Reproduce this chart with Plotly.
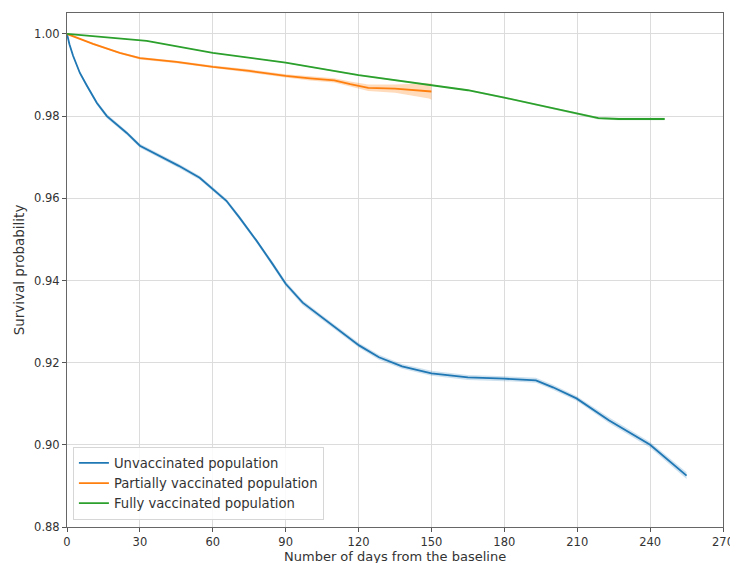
import plotly.graph_objects as go

# ---------------- data ----------------
unvax_days = [0, 1, 2.5, 5.3, 8.2, 12.3, 16.4, 24.6, 30, 38, 46, 54.6, 60, 65.6, 71, 78,
              84.5, 90, 97, 103.8, 110.8, 120.2, 128.4, 137.9, 150, 165, 180, 193, 200,
              209.7, 223, 240, 255]
unvax_surv = [1.0, 0.9975, 0.9947, 0.9905, 0.9874, 0.9832, 0.9800, 0.9759, 0.9728, 0.9704,
              0.9679, 0.9650, 0.9623, 0.9594, 0.9553, 0.9497, 0.9441, 0.9392, 0.9346,
              0.9315, 0.9283, 0.9242, 0.9213, 0.9191, 0.9174, 0.9164, 0.9161, 0.9157,
              0.9140, 0.9113, 0.9060, 0.9000, 0.8925]
unvax_ci = [0.0, 0.0002, 0.0003, 0.0004, 0.0004, 0.0005, 0.0005, 0.0005, 0.0005, 0.0005,
            0.0005, 0.0005, 0.0005, 0.0005, 0.0005, 0.0005, 0.0006, 0.0006, 0.0006,
            0.0006, 0.0006, 0.0006, 0.0006, 0.0006, 0.0006, 0.0006, 0.0006, 0.0006,
            0.0006, 0.0006, 0.0007, 0.0007, 0.0008]

partial_days = [0, 10.7, 21.7, 30, 45, 60, 75, 90, 100, 110, 116.6, 124, 135, 149, 150]
partial_surv = [1.0, 0.9976, 0.9954, 0.9941, 0.9932, 0.9920, 0.9910, 0.9898, 0.9892,
                0.9887, 0.9878, 0.9869, 0.9867, 0.9861, 0.9860]
partial_ci = [0.0, 0.0002, 0.0002, 0.0003, 0.0003, 0.0003, 0.0004, 0.0004, 0.0005,
              0.0005, 0.0006, 0.0008, 0.0010, 0.0018, 0.0020]

full_days = [0, 32.8, 60, 90, 120, 145, 150, 165, 180, 195, 210, 218.7, 227, 246]
full_surv = [1.0, 0.9983, 0.9954, 0.9930, 0.9900, 0.9879, 0.9874, 0.9863, 0.9845, 0.9825,
             0.9806, 0.9795, 0.9793, 0.9793]
full_ci = [0.0, 0.0001, 0.0001, 0.0001, 0.0002, 0.0002, 0.0002, 0.0002, 0.0002, 0.0002,
           0.0003, 0.0003, 0.0003, 0.0003]

series_names = ["Unvaccinated population", "Partially vaccinated population",
                "Fully vaccinated population"]
x_ticks = [0, 30, 60, 90, 120, 150, 180, 210, 240, 270]
y_ticks = [0.88, 0.90, 0.92, 0.94, 0.96, 0.98, 1.00]

colors = ["#1f77b4", "#ff7f0e", "#2ca02c"]
band_colors = ["rgba(31,119,180,0.22)", "rgba(255,127,14,0.28)", "rgba(44,160,44,0.22)"]

fig = go.Figure()
series = [(unvax_days, unvax_surv, unvax_ci),
          (partial_days, partial_surv, partial_ci),
          (full_days, full_surv, full_ci)]

for i, (d, s, ci) in enumerate(series):
    upper = [v + c for v, c in zip(s, ci)]
    lower = [v - c for v, c in zip(s, ci)]
    fig.add_trace(go.Scatter(x=d, y=upper, mode="lines", line=dict(width=0),
                             showlegend=False, hoverinfo="skip"))
    fig.add_trace(go.Scatter(x=d, y=lower, mode="lines", line=dict(width=0),
                             fill="tonexty", fillcolor=band_colors[i],
                             showlegend=False, hoverinfo="skip"))

for i, (d, s, ci) in enumerate(series):
    fig.add_trace(go.Scatter(x=d, y=s, mode="lines", name=series_names[i],
                             line=dict(color=colors[i], width=1.8)))

font = "DejaVu Sans, Arial, sans-serif"
# the page body has an 8px default margin, so the figure is sized to fit the window
fig.update_layout(
    width=730, height=555,
    margin=dict(l=59, r=13, t=4, b=36),
    paper_bgcolor="white", plot_bgcolor="white",
    font=dict(family=font, size=11, color="#333"),
    showlegend=True,
    legend=dict(x=0.009, y=0.014, xanchor="left", yanchor="bottom",
                traceorder="normal",
                bgcolor="rgba(255,255,255,0.85)", bordercolor="#d6d6d6", borderwidth=1,
                font=dict(size=13.2, color="#333"), tracegroupgap=0,
                itemwidth=30),
)
fig.update_xaxes(range=[0, 270], tickvals=x_ticks, ticks="outside", ticklen=4,
                 tickcolor="#555", showline=True, linecolor="#666", linewidth=1,
                 mirror=True, showgrid=True, gridcolor="#dcdcdc", gridwidth=1,
                 zeroline=False, tickfont=dict(size=11.5))
fig.update_yaxes(range=[0.88, 1.0051], tickvals=y_ticks, tickformat=".2f",
                 ticks="outside", ticklen=4, tickcolor="#555", showline=True,
                 linecolor="#666", linewidth=1, mirror=True, showgrid=True,
                 gridcolor="#dcdcdc", gridwidth=1, zeroline=False,
                 tickfont=dict(size=11.5),
                 title=dict(text="Survival probability", font=dict(size=13.5), standoff=6))
fig.add_annotation(text="Number of days from the baseline", xref="paper", yref="paper",
                   x=0.5, y=-0.039, xanchor="center", yanchor="top", showarrow=False,
                   font=dict(size=13, color="#333"))

fig.write_html("out.html")
